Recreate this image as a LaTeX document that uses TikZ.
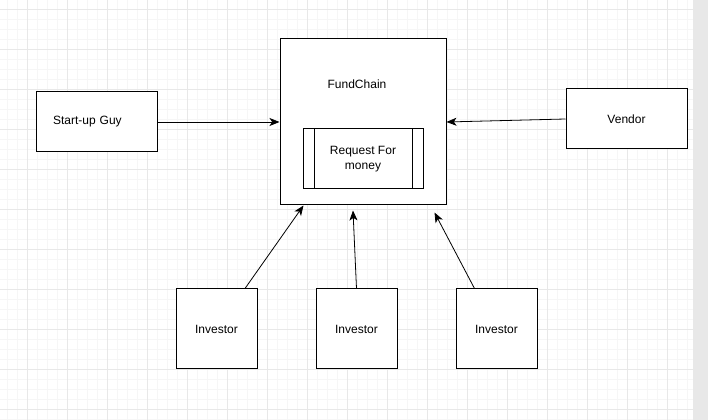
\documentclass[tikz,border=0pt]{standalone}
\usepackage{fontspec}
\setmainfont{Liberation Sans}
\usetikzlibrary{positioning, arrows.meta, calc}
\definecolor{gridminor}{HTML}{F6F6F6}
\definecolor{gridmajor}{HTML}{E8E8E8}
\definecolor{sidebar}{HTML}{E8E8E8}
\tikzset{
	x=0.75pt, y=-0.75pt, % one unit is one pixel of the sketch, y runs down
	box/.style={draw, line width=0.75pt, fill=white, inner sep=0pt, align=center,
		font=\fontsize{9}{11}\selectfont}, % plain box
	wide box/.style={box, minimum width=90.75pt, minimum height=45pt}, % 121 x 60
	investor box/.style={box, minimum width=60.75pt, minimum height=60pt}, % 81 x 80
	link/.style={-{Stealth[length=7.5pt, width=6pt, inset=2pt]}, line width=0.6pt}, % connectors
}

\begin{document}
\begin{tikzpicture}
	\useasboundingbox (0,0) rectangle (708,420);
	\fill[white] (0,0) rectangle (708,420);

	% background grid
	\foreach \gx in {7,17,...,697} \draw[gridminor, line width=0.5pt] (\gx,0) -- (\gx,420);
	\foreach \gy in {-1,9,...,419} \draw[gridminor, line width=0.5pt] (0,\gy) -- (708,\gy);
	\foreach \gx in {27,67,...,697} \draw[gridmajor, line width=0.6pt] (\gx,0) -- (\gx,420);
	\foreach \gy in {9,49,...,419} \draw[gridmajor, line width=0.6pt] (0,\gy) -- (708,\gy);
	\fill[sidebar] (693,0) rectangle (708,420);

	% main block
	\node[box, minimum width=124.5pt, minimum height=124.5pt] (fundchain) at (363,122) {};
	\node[font=\fontsize{9}{11}\selectfont] (fundchain_title) at (357,84) {FundChain};
	\node[box, minimum width=90pt, minimum height=45pt] (request) at (363,159) {Request For\\money};
	\draw[line width=0.75pt] ($(request.north west)+(12,0)$) -- ($(request.south west)+(12,0)$)
		($(request.north east)+(-11,0)$) -- ($(request.south east)+(-11,0)$);

	% outside parties
	\node[wide box, text width=65.25pt, align=left] (startup) at (96.5,122) {Start-up Guy};
	\node[wide box] (vendor) at (626.5,119) {Vendor};
	\node[investor box] (investor_a) at (216.5,329) {Investor};
	\node[investor box] (investor_b) at (356.5,329) {Investor};
	\node[investor box] (investor_c) at (496.5,329) {Investor};

	% connectors
	\draw[link] (startup.east) -- (startup.east -| fundchain.west);
	\draw[link] (vendor.west) -- (fundchain.east);
	\draw[link] ($(investor_a.north)+(28.5,0)$) -- ($(fundchain.south west)+(24,0)$);
	\draw[link] (investor_b.north) -- ($(fundchain.south)+(-10,5)$);
	\draw[link] ($(investor_c.north)+(-22,0)$) -- ($(fundchain.south east)+(-12,7)$);
\end{tikzpicture}
\end{document}
